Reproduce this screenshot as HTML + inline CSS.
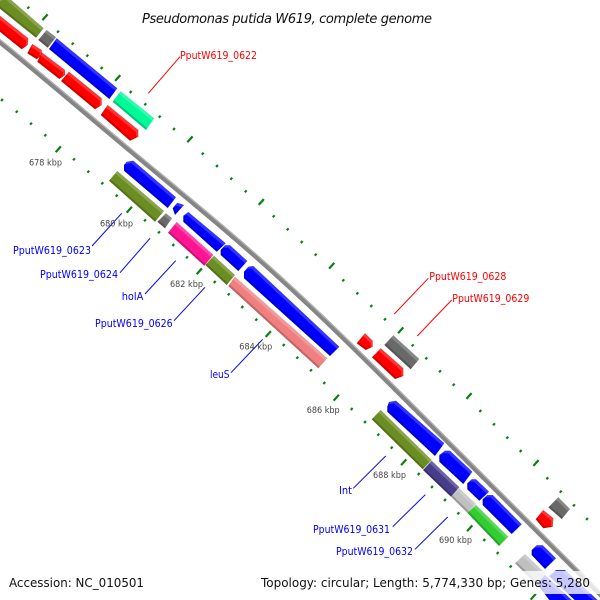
<!DOCTYPE html>
<html><head><meta charset="utf-8"><style>
html,body{margin:0;padding:0;background:#fff}
svg{display:block}
.g polygon{filter:url(#b)}
.f{font-family:"DejaVu Sans","Liberation Sans",sans-serif}
.r{fill:#f00;font-size:11px}.u{fill:#00f;font-size:11px}
.k{fill:#444;font-size:9px}
</style></head><body>
<svg width="600" height="600" viewBox="0 0 600 600" xmlns="http://www.w3.org/2000/svg">
<defs>
<filter id="b" x="-20%" y="-20%" width="140%" height="140%" color-interpolation-filters="sRGB">
<feOffset in="SourceAlpha" dx="-2" dy="2.3" result="s1"/>
<feComposite in="SourceAlpha" in2="s1" operator="out" result="b1"/>
<feFlood flood-color="#fff" flood-opacity=".2"/>
<feComposite in2="b1" operator="in" result="L"/>
<feOffset in="SourceAlpha" dx="1.3" dy="-1.5" result="s2"/>
<feComposite in="SourceAlpha" in2="s2" operator="out" result="b2"/>
<feFlood flood-color="#000" flood-opacity=".2"/>
<feComposite in2="b2" operator="in" result="D"/>
<feMerge><feMergeNode in="SourceGraphic"/><feMergeNode in="L"/><feMergeNode in="D"/></feMerge>
</filter>
</defs>
<rect width="600" height="600" fill="#fff"/>
<g fill="none" stroke="#087f10" stroke-width="2.2">
<path transform="translate(-0.9,1)" d="M28.3 7.7l1.8 -2M58 31.7l1.8 -2M72.7 43.7l1.8 -2M87.3 55.7l1.8 -2M101.7 68l1.8 -2M130.7 92l1.8 -2M145.3 104.3l1.8 -2M159.7 116.7l1.8 -2M174 129l1.8 -2M202.7 153.7l1.8 -2M217 166l1.8 -2M231.3 178.7l1.8 -2M245.7 191.3l1.8 -2M273.7 216.3l1.8 -2M287.7 229.3l1.8 -2M301.7 242l1.8 -2M315.7 254.7l1.8 -2M343.3 280.3l1.8 -2M357.3 293.3l1.8 -2M371.3 306l1.8 -2M385 319.3l1.8 -2M412.7 345.3l1.8 -2M426.3 358.3l1.8 -2M440 371.3l1.8 -2M453.7 384.7l1.8 -2M480.3 411l1.8 -2M494 424.3l1.8 -2M507.3 437.7l1.8 -2M520.7 451l1.8 -2M547.3 478.3l1.8 -2M560.7 491.7l1.8 -2M574 505.3l1.8 -2M587 519l1.8 -2M2 100l1.8 -2M16.7 111.7l1.8 -2M31 123.7l1.8 -2M45.3 135.3l1.8 -2M74 159.3l1.8 -2M88.3 171.7l1.8 -2M102.3 183.3l1.8 -2M116.7 195.7l1.8 -2M145 220.3l1.8 -2M159 232.3l1.8 -2M173.3 245l1.8 -2M187 257.3l1.8 -2M214.7 282l1.8 -2M228.7 294.3l1.8 -2M242.3 307l1.8 -2M256.3 319.7l1.8 -2M283.7 345l1.8 -2M297.3 357.7l1.8 -2M311 370.3l1.8 -2M324.3 383l1.8 -2M351.7 409l1.8 -2M365 422l1.8 -2M378.3 434.7l1.8 -2M391.7 447.7l1.8 -2M418.7 474l1.8 -2M432 487l1.8 -2M445 500l1.8 -2M458.3 513.3l1.8 -2M484.3 540l1.8 -2M497.7 553l1.8 -2M510.7 566.5l1.8 -2M523.7 580l1.8 -2"/>
<path transform="translate(-2.6,2.9)" d="M45 17.3l5.2 -5.8M117.7 78l5.2 -5.8M190 139.3l5.2 -5.8M261.3 202l5.2 -5.8M331.7 265.7l5.2 -5.8M400.7 330.3l5.2 -5.8M469 396l5.2 -5.8M536 463l5.2 -5.8M58.3 149.3l5.2 -5.8M129.3 209.7l5.2 -5.8M199.3 271.3l5.2 -5.8M268.3 334l5.2 -5.8M336.3 397.7l5.2 -5.8M403.7 462.3l5.2 -5.8M469.7 528.3l5.2 -5.8M533.3 596.7l5.2 -5.8"/>
</g>
<path fill="none" stroke="#858585" stroke-width="5" d="M-5 38C40 74 85 113 130 150.5C187 198 244 244 300 296.7C335 329 370 364 406 400C432 426 458 452 485 479C521 515 557 551 605 599"/>
<path fill="none" stroke="#b4b4b4" stroke-width="1.2" transform="translate(1.2,-1.4)" d="M-5 38C40 74 85 113 130 150.5C187 198 244 244 300 296.7C335 329 370 364 406 400C432 426 458 452 485 479C521 515 557 551 605 599"/>
<g class="g">
<polygon fill="#6b8e23" points="6.7,-4 43.7,28.3 36,37.7 -6,4"/>
<polygon fill="#696969" points="46.7,30 56,37.3 47.7,47.7 38.3,40"/>
<polygon fill="#0000ff" points="56.7,38.3 117.3,88.3 109.3,99 49,49"/>
<polygon fill="#00fa9a" points="120.7,91.3 154.3,118.3 146,130 112.7,101.7"/>
<polygon fill="#ff0000" points="-6,11 28.3,38.3 27.7,45 21.7,49.3 -6,27"/>
<polygon fill="#ff0000" points="32.3,44 41.7,50 41.7,55 36.7,59.3 27.3,53.3"/>
<polygon fill="#ff0000" points="41.7,52.3 65,70 65,75 59.3,79 37.3,61.7"/>
<polygon fill="#ff0000" points="69,71.7 101.7,98.3 101.7,105 95,109.3 61,81"/>
<polygon fill="#ff0000" points="107.7,105 138.3,130 138.3,136.7 130,140.7 100.7,115"/>
<polygon fill="#0000ff" points="124,165 126.7,161.7 133.3,160.7 176,197.3 167.7,208 124,170.7"/>
<polygon fill="#6b8e23" points="117.3,171 164,211 155,221.7 109,180.7"/>
<polygon fill="#0000ff" points="177.3,202.7 184,205 175,215 172.7,208.3"/>
<polygon fill="#696969" points="166,213.3 172,218.3 165,228.3 157.3,221.7"/>
<polygon fill="#0000ff" points="183.3,215.7 188.3,212 225.7,243.3 216.7,251.7 183.3,221.7"/>
<polygon fill="#ff1493" points="176.7,222 213.3,255 204.3,265.7 168,232.7"/>
<polygon fill="#0000ff" points="225,245.3 230,245.3 247.3,261 238.3,271 220.7,255 220.7,250"/>
<polygon fill="#6b8e23" points="214,255.7 235,275 226.7,285 205.3,265"/>
<polygon fill="#0000ff" points="248.3,266.7 253.3,266 339.3,346.7 330,356 244,278.3 244,271.7"/>
<polygon fill="#f08080" points="235,276.7 327.3,358.3 318.3,368.3 228.3,286"/>
<polygon fill="#ff0000" points="356.7,343.3 365,333.3 372.7,340.7 372.7,346.7 365.7,350"/>
<polygon fill="#ff0000" points="380.7,348.3 403.3,368.3 403.3,376 395,379 372,357.3"/>
<polygon fill="#696969" points="393.3,335.3 419.3,359 410.7,369.3 384.3,345"/>
<polygon fill="#0000ff" points="387.3,406.7 389,402 396,400.7 444.3,443.3 435,456 387.3,411.7"/>
<polygon fill="#6b8e23" points="380.7,410 431.7,460 422.7,469.3 371.7,419.3"/>
<polygon fill="#0000ff" points="439.3,455 445,450.7 450,450.7 472.3,471.7 463.3,484 439.3,461.7"/>
<polygon fill="#483d8b" points="431.7,460.7 459.3,487.3 451,496.7 423,470"/>
<polygon fill="#0000ff" points="467.3,483.3 471.7,479.3 476,479.3 489,491.7 479.3,500.7 467.3,489.3"/>
<polygon fill="#0000ff" points="482.7,499.3 487.3,495 492.7,495 521.7,524.3 511.7,534 482.7,505"/>
<polygon fill="#c0c0c0" points="459.3,488.3 476,504 467.3,512.7 451,496.7"/>
<polygon fill="#32cd32" points="476,505 508.3,536.7 499,546 467.3,512.7"/>
<polygon fill="#696969" points="558.3,497.3 570,509 561.7,519 548.3,507.3"/>
<polygon fill="#ff0000" points="543.3,510 553.3,518.3 552.7,526.7 543.3,528.3 535.7,519.3"/>
<polygon fill="#0000ff" points="536.7,545.3 542.7,545.3 556,558.3 545,569 531.7,555 531.7,550"/>
<polygon fill="#c0c0c0" points="525,554 546,574 536,584 515,563.3"/>
<polygon fill="#0000ff" points="537,584 545,575 575,603 557,610"/>
<polygon fill="#0000ff" points="549,576 556,570 565,570 603,605 580,605"/>
</g>
<g fill="none" stroke-width="1">
<g stroke="#f00">
<path d="M180 56.7L148.3 93.3M428.3 278.3L394.3 314M451.7 300L417.3 336"/>
</g>
<g stroke="#00f">
<path d="M121.7 213.3L92 246M150 238.3L120 272.7M175.7 260.7L145 294M205 287.3L174 320.7M262.7 339.3L231 372.7M385.7 456L353.3 488.3M425.3 494.7L392.7 526.7M447.7 517L415 549.3"/>
</g>
</g>
<rect x="0" y="571" width="600" height="23" fill="#fff" fill-opacity=".78"/>
<g class="f">
<text x="142" y="23" font-size="13" font-style="italic" fill="#111" textLength="290" lengthAdjust="spacing">Pseudomonas putida W619, complete genome</text>
<text x="9" y="587" font-size="12" fill="#111" textLength="135" lengthAdjust="spacingAndGlyphs">Accession: NC_010501</text>
<text x="261" y="587" font-size="12" fill="#111" textLength="329" lengthAdjust="spacingAndGlyphs">Topology: circular; Length: 5,774,330 bp; Genes: 5,280</text>
<text class="r" x="180" y="59" textLength="77" lengthAdjust="spacingAndGlyphs">PputW619_0622</text>
<text class="r" x="429.3" y="280" textLength="77" lengthAdjust="spacingAndGlyphs">PputW619_0628</text>
<text class="r" x="452.3" y="302" textLength="77" lengthAdjust="spacingAndGlyphs">PputW619_0629</text>
<text class="u" x="13" y="254" textLength="78" lengthAdjust="spacingAndGlyphs">PputW619_0623</text>
<text class="u" x="40" y="278" textLength="78" lengthAdjust="spacingAndGlyphs">PputW619_0624</text>
<text class="u" x="121.7" y="300" textLength="21.6" lengthAdjust="spacingAndGlyphs">holA</text>
<text class="u" x="95" y="327" textLength="77.7" lengthAdjust="spacingAndGlyphs">PputW619_0626</text>
<text class="u" x="210" y="378" textLength="19.5" lengthAdjust="spacingAndGlyphs">leuS</text>
<text class="u" x="339" y="494" textLength="13" lengthAdjust="spacingAndGlyphs">Int</text>
<text class="u" x="313" y="533" textLength="77" lengthAdjust="spacingAndGlyphs">PputW619_0631</text>
<text class="u" x="336" y="555" textLength="77" lengthAdjust="spacingAndGlyphs">PputW619_0632</text>
<text class="k" x="29" y="165.5" textLength="33" lengthAdjust="spacingAndGlyphs">678 kbp</text>
<text class="k" x="100" y="226.5" textLength="33" lengthAdjust="spacingAndGlyphs">680 kbp</text>
<text class="k" x="170" y="287" textLength="33" lengthAdjust="spacingAndGlyphs">682 kbp</text>
<text class="k" x="239.3" y="349.5" textLength="33" lengthAdjust="spacingAndGlyphs">684 kbp</text>
<text class="k" x="306.7" y="413" textLength="33" lengthAdjust="spacingAndGlyphs">686 kbp</text>
<text class="k" x="373" y="478" textLength="33" lengthAdjust="spacingAndGlyphs">688 kbp</text>
<text class="k" x="439" y="543" textLength="33" lengthAdjust="spacingAndGlyphs">690 kbp</text>
</g>
</svg>
</body></html>
